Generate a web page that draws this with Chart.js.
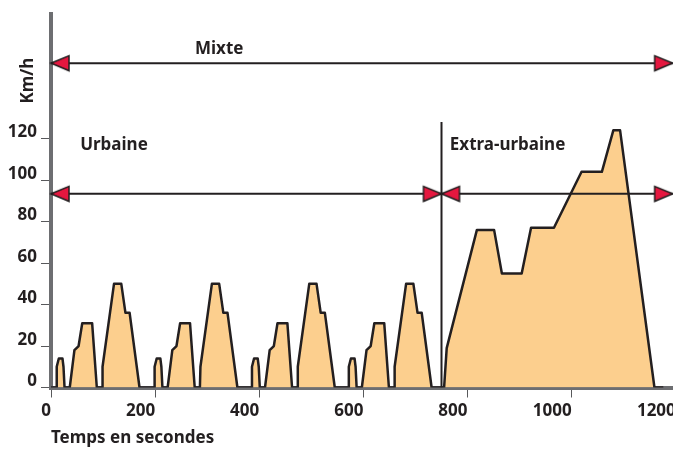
<!DOCTYPE html>
<html>
<head>
<meta charset="utf-8">
<script src="https://cdn.jsdelivr.net/npm/chart.js@4.4.1/dist/chart.umd.min.js"></script>
<style>
  html, body { margin: 0; padding: 0; background: #fff; overflow: hidden; }
  #wrap { width: 700px; height: 449px; }
</style>
</head>
<body>
<div id="wrap"><canvas id="chart" width="700" height="449"></canvas></div>
<script>
// vitesse (km/h) en fonction du temps (s) : 4 cycles urbains + cycle extra-urbain
const speedTimes = [0,
  10, 11, 15, 22, 24, 26, 36, 45, 53, 60, 79, 88, 98, 99, 121, 135, 143, 151, 170,
  198, 199, 203, 210, 212, 214, 224, 233, 241, 248, 267, 276, 286, 287, 309, 323, 331, 339, 358,
  385, 386, 390, 397, 399, 401, 411, 420, 428, 435, 454, 463, 473, 474, 496, 510, 518, 526, 545,
  571, 572, 576, 583, 585, 587, 597, 606, 614, 621, 640, 649, 659, 660, 682, 696, 704, 712, 731,
  755, 760, 818, 851, 866, 904, 922, 966, 1019, 1058, 1080, 1093, 1159, 1176];
const speedValues = [0,
  0, 10, 14, 14, 10, 0, 0, 18, 20, 31, 31, 0, 0, 10, 50, 50, 36, 36, 0,
  0, 10, 14, 14, 10, 0, 0, 18, 20, 31, 31, 0, 0, 10, 50, 50, 36, 36, 0,
  0, 10, 14, 14, 10, 0, 0, 18, 20, 31, 31, 0, 0, 10, 50, 50, 36, 36, 0,
  0, 10, 14, 14, 10, 0, 0, 18, 20, 31, 31, 0, 0, 10, 50, 50, 36, 36, 0,
  0, 19, 76, 76, 55, 55, 77, 77, 104, 104, 124, 124, 0, 0];

const xTicks = [0, 200, 400, 600, 800, 1000, 1200];
const yTicks = [0, 20, 40, 60, 80, 100, 120];

// flèches des phases (temps de début / fin, niveau en km/h)
const mixteSpan = [0, 1194];
const mixteLevel = 156.4;
const urbainSpan = [0, 750];
const extraSpan = [750, 1194];
const phaseLevel = 93.4;
const splitTime = 750;
const splitRange = [0, 128];

const ink = '#231f20';
const axisGray = '#6d6e71';
const fillOrange = '#fccf8e';
const red = '#e5173f';

Chart.defaults.font.family = '"Noto Sans", sans-serif';

function makeHead(dir) {
  // pointe au centre de l'image, dir < 0 : vers la gauche
  const c = document.createElement('canvas');
  c.width = 40; c.height = 20;
  const g = c.getContext('2d');
  const base = dir < 0 ? 38 : 2;
  g.beginPath();
  g.moveTo(20, 10); g.lineTo(base, 2.5); g.lineTo(base, 17.5); g.closePath();
  g.fillStyle = red; g.fill();
  g.lineWidth = 1.5; g.strokeStyle = ink; g.stroke();
  return c;
}
const leftHead = makeHead(-1);
const rightHead = makeHead(1);

function arrow(span, level) {
  return {
    data: span.map(t => ({ x: t, y: level })),
    borderColor: ink, borderWidth: 2, fill: false,
    pointStyle: [leftHead, rightHead], pointRadius: 4,
    clip: false, order: 1
  };
}

const labelsPlugin = {
  id: 'phaseLabels',
  afterDatasetsDraw(chart) {
    const { ctx, chartArea } = chart;
    const x = chart.scales.x, y = chart.scales.y;
    ctx.save();
    ctx.fillStyle = ink;
    ctx.font = 'bold 17px "Noto Sans"';
    ctx.textBaseline = 'alphabetic';
    ctx.textAlign = 'center';
    ctx.fillText('Mixte', x.getPixelForValue(323), y.getPixelForValue(161));
    ctx.textAlign = 'left';
    ctx.fillText('Urbaine', x.getPixelForValue(56), y.getPixelForValue(114.6));
    ctx.fillText('Extra-urbaine', x.getPixelForValue(766), y.getPixelForValue(114.6));
    ctx.translate(chartArea.left - 23, y.getPixelForValue(148));
    ctx.rotate(-Math.PI / 2);
    ctx.textAlign = 'center';
    ctx.textBaseline = 'middle';
    ctx.fillText('Km/h', 0, 0);
    ctx.restore();
  }
};

const tickFont = { size: 17, weight: 'bold' };

new Chart(document.getElementById('chart'), {
  type: 'line',
  data: {
    datasets: [
      {
        data: speedTimes.map((t, i) => ({ x: t, y: speedValues[i] })),
        borderColor: ink, borderWidth: 2.5, borderJoinStyle: 'round',
        backgroundColor: fillOrange, fill: 'origin',
        pointRadius: 0, tension: 0, order: 10
      },
      arrow(mixteSpan, mixteLevel),
      arrow(urbainSpan, phaseLevel),
      arrow(extraSpan, phaseLevel),
      {
        data: splitRange.map(v => ({ x: splitTime, y: v })),
        borderColor: ink, borderWidth: 2, pointRadius: 0, fill: false, order: 2
      }
    ]
  },
  options: {
    responsive: false,
    animation: false,
    events: [],
    layout: { padding: { top: 13, right: 24.2, bottom: 0, left: 0 } },
    plugins: { legend: { display: false }, tooltip: { enabled: false } },
    scales: {
      x: {
        type: 'linear', min: 0, max: 1200,
        afterBuildTicks: s => { s.ticks = xTicks.map(v => ({ value: v })); },
        afterFit: s => { s.height = 61.5; },
        border: { color: axisGray, width: 4 },
        grid: { drawOnChartArea: false, tickLength: 10, tickColor: '#58595b', tickWidth: 1 },
        ticks: { align: 'end', padding: 3, maxRotation: 0, autoSkip: false, color: ink, font: tickFont, callback: v => String(v) },
        title: { display: true, text: 'Temps en secondes', align: 'start', color: ink, font: tickFont, padding: { top: 0, bottom: 1 } }
      },
      y: {
        min: 0, max: 180,
        afterBuildTicks: s => { s.ticks = yTicks.map(v => ({ value: v })); },
        afterFit: s => { s.width = 51; },
        border: { color: axisGray, width: 4 },
        grid: { drawOnChartArea: false, tickLength: 10, tickColor: '#58595b', tickWidth: 1 },
        ticks: { padding: 4, labelOffset: -6, color: ink, font: tickFont, callback: v => String(v) }
      }
    }
  },
  plugins: [labelsPlugin]
});
</script>
</body>
</html>
